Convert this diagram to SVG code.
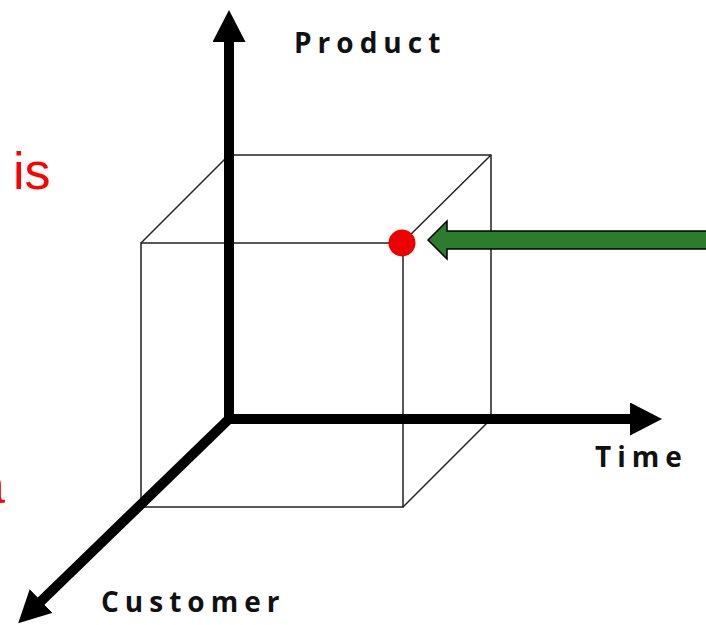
<svg xmlns="http://www.w3.org/2000/svg" width="706" height="625" viewBox="0 0 706 625">
<style>
.edge{fill:none;stroke:#222;stroke-width:1.5}
.axis{fill:none;stroke:#000;stroke-width:10}
.lbl{font-family:"Open Sans","DejaVu Sans",sans-serif;font-weight:bold;font-size:28px;letter-spacing:6px;fill:#111}
.red{font-family:"Liberation Sans",Arial,sans-serif;font-size:52px;fill:#ff0000}
</style>
<defs>
<marker id="ah" viewBox="0 0 32 33" refX="10" refY="16.5" markerWidth="32" markerHeight="33" markerUnits="userSpaceOnUse" orient="auto">
<path d="M0,0 L32,16.5 L0,33 z" fill="#000"/>
</marker>
</defs>
<rect width="706" height="625" fill="#fff"/>
<text class="red" x="13" y="189">is</text>
<text class="red" x="-24" y="503">a</text>
<g id="cube">
<path class="edge" d="M229,155 H491 V419"/>
<rect class="edge" x="141" y="243" width="262" height="264"/>
<path class="edge" d="M141,243 L229,155 M402,243 L491,155 M403,507 L491,419"/>
</g>
<g id="connectors">
<line class="axis" x1="229" y1="424" x2="229" y2="32" marker-end="url(#ah)"/>
<line class="axis" x1="224" y1="419" x2="640" y2="419" marker-end="url(#ah)"/>
<line class="axis" x1="229" y1="419" x2="34" y2="608" marker-end="url(#ah)"/>
</g>
<g id="product"><text class="lbl" x="294" y="53">Product</text></g>
<g id="time"><text class="lbl" x="595" y="467">Time</text></g>
<g id="customer"><text class="lbl" x="101" y="612">Customer</text></g>
<g id="point"><circle cx="402" cy="243" r="13.5" fill="#ee0000"/></g>
<g id="pointer"><path d="M428,240 L447,221 V231 H710 V249 H447 V259 Z" fill="#2b7d2b" stroke="#000" stroke-width="1.5"/></g>
</svg>
